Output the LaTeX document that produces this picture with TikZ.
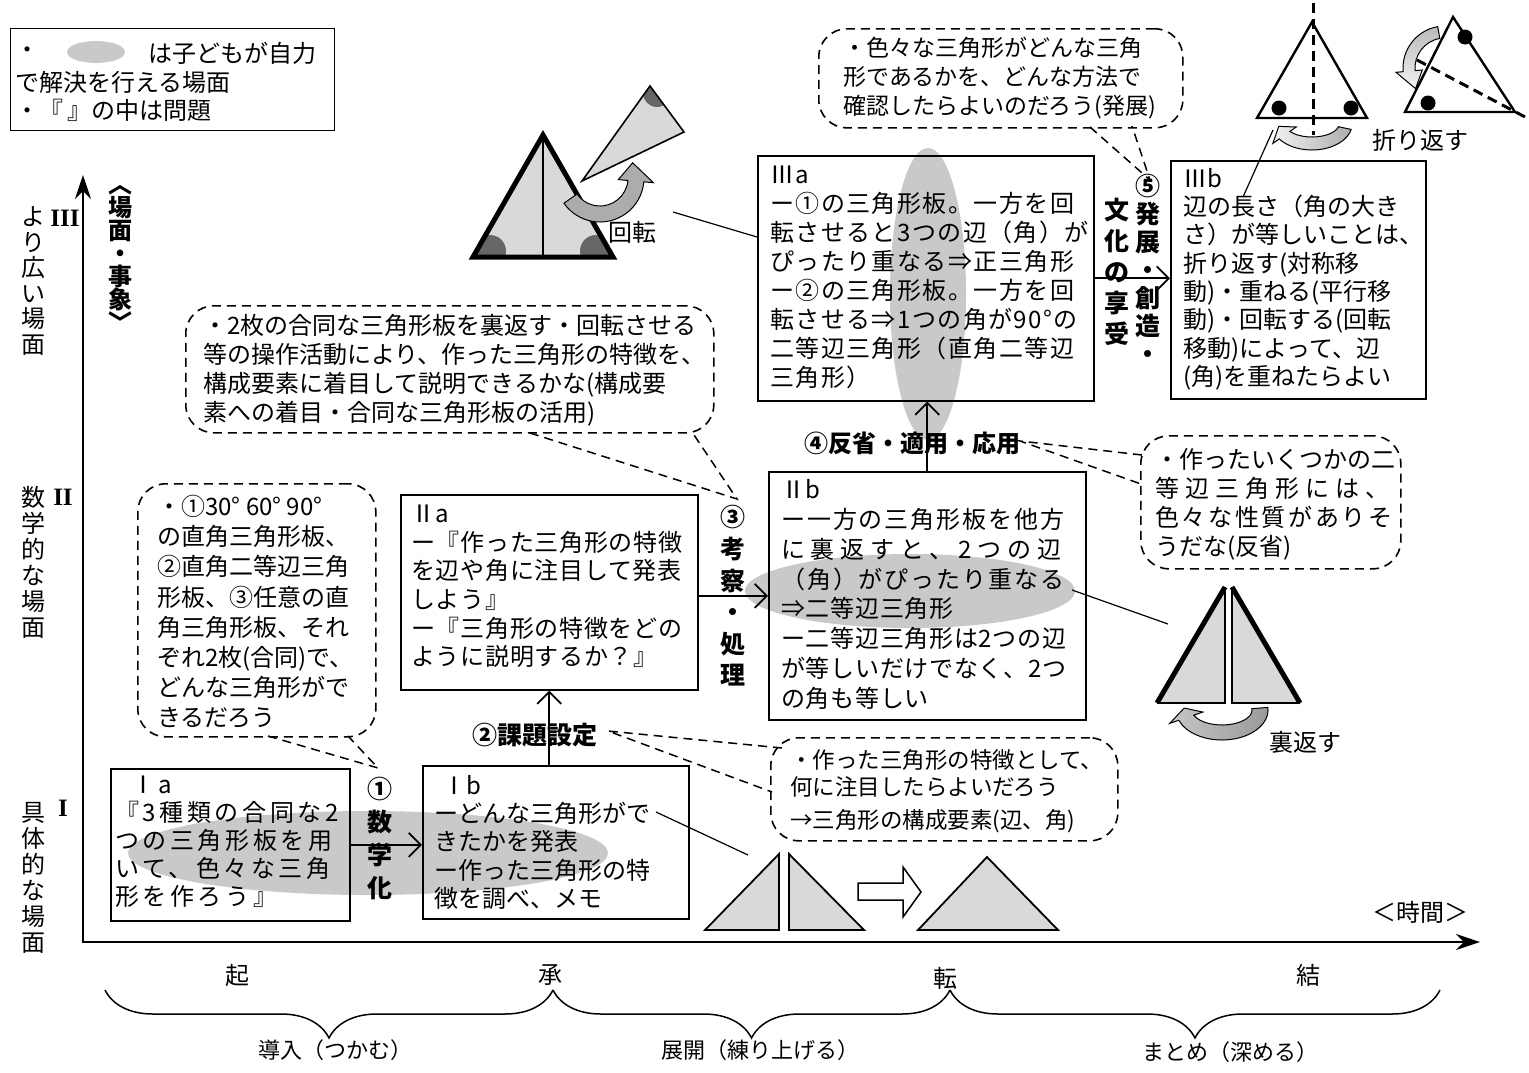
\documentclass[tikz,border=0pt]{standalone}
\usepackage{fontspec}
\setmainfont{Noto Sans CJK JP}
\newfontfamily\romfont{Liberation Serif}
\usepackage{graphicx}
\usetikzlibrary{arrows.meta,calc,decorations.pathreplacing}

% curved broad arrow along an elliptical band:
% #1 centre, #2 start angle, #3 end angle, #4/#5 outer radii, #6/#7 inner radii, #8 tip offset angle, #9 style
\newcommand{\bandarrow}[9]{%
  \pgfmathsetmacro{\bOx}{#4+0.6*(#4-#6)}%
  \pgfmathsetmacro{\bOy}{#5+0.6*(#5-#7)}%
  \pgfmathsetmacro{\bIx}{#6-0.6*(#4-#6)}%
  \pgfmathsetmacro{\bIy}{#7-0.6*(#5-#7)}%
  \pgfmathsetmacro{\bMx}{0.5*(#4+#6)}%
  \pgfmathsetmacro{\bMy}{0.5*(#5+#7)}%
  \pgfmathsetmacro{\bTip}{#3+#8}%
  \path[#9] ($(#1)+(#2:#4 and #5)$) arc[start angle=#2, end angle=#3, x radius=#4, y radius=#5]
    -- ($(#1)+(#3:\bOx\space and \bOy)$) -- ($(#1)+(\bTip:\bMx\space and \bMy)$)
    -- ($(#1)+(#3:\bIx\space and \bIy)$) -- ($(#1)+(#3:#6 and #7)$)
    arc[start angle=#3, end angle=#2, x radius=#6, y radius=#7] -- cycle;
}

\begin{document}
\begin{tikzpicture}[x=1pt, y=-1pt,
  box/.style={draw, line width=1.6pt, inner sep=0pt, anchor=north west},
  bubble/.style={draw, line width=1.6pt, dash pattern=on 9pt off 6pt, rounded corners=28pt, inner sep=0pt, anchor=north west},
  txt/.style={font=\fontsize{24}{28.5}\selectfont, align=left, inner sep=0pt, anchor=north west},
  lab/.style={font=\fontsize{25}{31}\selectfont\bfseries, align=center, inner sep=0pt},
  vtxt/.style={font=\fontsize{24}{25.5}\selectfont, align=center, inner sep=0pt},
  plain/.style={font=\fontsize{24}{26}\selectfont, inner sep=0pt},
  roman/.style={inner sep=0pt, font=\romfont\bfseries\fontsize{25}{26}\selectfont},
  tail/.style={line width=1.5pt, dash pattern=on 9pt off 6pt},
  flow/.style={line width=1.8pt, -{Straight Barb[length=12pt,width=24pt,line width=1.8pt]}},
  axis/.style={line width=2.4pt},
  pointer/.style={line width=1.2pt},
  blob/.style={fill=gray!42},
  plate/.style={fill=gray!30, draw, line width=1.8pt, line join=miter},
  dot/.style={fill=black},
  broad/.style={draw=black, line width=1pt},
]
\useasboundingbox (0,0) rectangle (1529,1072);

% ---- stippled zones (under boxes and text)
\fill[blob] (368,853) ellipse [x radius=240, y radius=42];
\fill[blob] (910,591) ellipse [x radius=165, y radius=37];
\fill[blob] (928,294) ellipse [x radius=38, y radius=146];

% ---- legend
\node[box, line width=1.2pt, minimum width=324pt, minimum height=102pt] (leg) at (10,28) {};
\fill[blob] (96,52) ellipse [x radius=29, y radius=11];
\node[plain, anchor=west] (leg1) at (15,53) {・};
\node[plain, anchor=west] (leg2) at (148,53) {は子どもが自力};
\node[plain, anchor=west] (leg3) at (15,82) {で解決を行える場面};
\node[plain, anchor=west] (leg4) at (15,110) {・『\hspace{4pt}』の中は問題};

% ---- axes
\coordinate (O) at (83,942);
\coordinate (ytop) at (83,175);
\coordinate (xend) at (1480,942);
\draw[axis, {Stealth[length=24pt,width=16pt]}-{Stealth[length=24pt,width=16pt]}] (ytop) -- (O) -- (xend);

\node[vtxt, font=\fontsize{24}{23}\selectfont\bfseries] (scene) at (120,258) {︿\\場\\面\\・\\事\\象\\﹀};
\node[vtxt] (lv3) at (33,281) {よ\\り\\広\\い\\場\\面};
\node[vtxt, font=\fontsize{24}{26}\selectfont] (lv2) at (33,562) {数\\学\\的\\な\\場\\面};
\node[vtxt, font=\fontsize{24}{26}\selectfont] (lv1) at (33,878) {具\\体\\的\\な\\場\\面};
\node[roman] (r3) at (65,218) {III};
\node[roman] (r2) at (63,497) {II};
\node[roman] (r1) at (63,808) {I};
\node[plain] (time) at (1420,912) {＜時間＞};

% ---- stage boxes
\node[box, minimum width=239pt, minimum height=152pt] (Ia) at (110,768) {};
\node[box, minimum width=266pt, minimum height=153pt] (Ib) at (422,765) {};
\node[box, minimum width=297pt, minimum height=195pt] (IIa) at (400,494) {};
\node[box, minimum width=317pt, minimum height=248pt] (IIb) at (768,471) {};
\node[box, minimum width=336pt, minimum height=245pt] (IIIa) at (757,155) {};
\node[box, minimum width=255pt, minimum height=238pt] (IIIb) at (1170,160) {};

\node[txt, font={\fontsize{24}{28}\selectfont\addfontfeature{LetterSpace=15}}] (Iat) at (115,776)
  {\hspace{16pt}Ⅰa\\『3種類の合同な2\\つの三角形板を用\\いて、色々な三角\\形を作ろう』};
\node[txt, font={\fontsize{24}{28.3}\selectfont}] (Ibt) at (434,775)
  {\hspace{8pt}Ⅰb\\ーどんな三角形がで\\きたかを発表\\ー作った三角形の特\\徴を調べ、メモ};
\node[txt, font={\fontsize{24}{28.6}\selectfont\addfontfeature{LetterSpace=3}}] (IIat) at (411,505)
  {Ⅱa\\ー『作った三角形の特徴\\を辺や角に注目して発表\\しよう』\\ー『三角形の特徴をどの\\ように説明するか？』};
\node[txt, font={\fontsize{24}{29.9}\selectfont\addfontfeature{LetterSpace=3}}] (IIbt) at (781,479)
  {Ⅱb\\{\addfontfeature{LetterSpace=8}ー一方の三角形板を他方}\\{\addfontfeature{LetterSpace=24}に裏返すと、2つの辺}\\{\addfontfeature{LetterSpace=8}（角）がぴったり重なる}\\⇒二等辺三角形\\ー二等辺三角形は2つの辺\\が等しいだけでなく、2つ\\の角も等しい};
\node[txt, font={\fontsize{24}{29}\selectfont\addfontfeature{LetterSpace=6}}] (IIIat) at (770,166)
  {Ⅲa\\ー①の三角形板。一方を回\\転させると3つの辺（角）が\\ぴったり重なる⇒正三角形\\ー②の三角形板。一方を回\\転させる⇒1つの角が90°の\\二等辺三角形（直角二等辺\\三角形）};
\node[txt, font={\fontsize{24}{28.3}\selectfont}] (IIIbt) at (1183,168)
  {Ⅲb\\辺の長さ（角の大き\\さ）が等しいことは、\\折り返す(対称移\\動)・重ねる(平行移\\動)・回転する(回転\\移動)によって、辺\\(角)を重ねたらよい};

% ---- transitions
\draw[flow] (Ia.east) -- (Ia.east -| Ib.west);
\draw[flow] (IIa.south |- Ib.north) -- (IIa.south);
\draw[flow] (IIa.east |- IIb.west) -- (IIb.west);
\draw[flow] (IIb.north) -- (IIb.north |- IIIa.south);
\draw[flow] (IIIa.east) -- (IIIa.east -| IIIb.west);

\node[lab, font=\fontsize{25}{33}\selectfont\bfseries] (s1) at (380,838) {①\\数\\学\\化};
\node[lab] (s2) at (535,735) {②課題設定};
\node[lab, font=\fontsize{25}{31.6}\selectfont\bfseries] (s3) at (733,596) {③\\考\\察\\・\\処\\理};
\node[lab, font=\fontsize{24}{26}\selectfont\bfseries] (s4) at (912,443) {④反省・適用・応用};
\node[lab, font=\fontsize{25}{31}\selectfont\bfseries] (s5a) at (1117,272) {文\\化\\の\\享\\受};
\node[lab, font=\fontsize{25}{28}\selectfont\bfseries] (s5b) at (1148,269) {⑤\\発\\展\\・\\創\\造\\・};

% ---- dashed speech bubbles
\node[bubble, minimum width=238pt, minimum height=253pt] (C1) at (137,483) {};
\node[txt, font={\fontsize{24}{30.2}\selectfont}] (C1t) at (157,495)
  {・①30°\ 60°\ 90°\\の直角三角形板、\\②直角二等辺三角\\形板、③任意の直\\角三角形板、それ\\ぞれ2枚(合同)で、\\どんな三角形がで\\きるだろう};
\coordinate (t1) at (378,768);
\draw[tail] (268,736) -- (t1) -- (348,736);

\node[bubble, minimum width=528pt, minimum height=127pt] (C2) at (185,305) {};
\node[txt, font={\fontsize{24}{29}\selectfont}] (C2t) at (203,314)
  {・2枚の合同な三角形板を裏返す・回転させる\\等の操作活動により、作った三角形の特徴を、\\構成要素に着目して説明できるかな(構成要\\素への着目・合同な三角形板の活用)};
\coordinate (t2) at (737,499);
\draw[tail] (530,433) -- (t2) -- (692,432);

\node[bubble, minimum width=364pt, minimum height=99pt] (C3) at (818,28) {};
\node[txt, font={\fontsize{23}{29}\selectfont}] (C3t) at (843,37)
  {・色々な三角形がどんな三角\\形であるかを、どんな方法で\\確認したらよいのだろう(発展)};
\coordinate (t3) at (1150,180);
\draw[tail] (1090,127) -- (t3) -- (1132,126);

\node[bubble, minimum width=260pt, minimum height=133pt] (C4) at (1140,435) {};
\node[txt, font={\fontsize{24}{29}\selectfont}] (C4t) at (1155,448)
  {・作ったいくつかの二\\{\addfontfeature{LetterSpace=25}等辺三角形には、}\\{\addfontfeature{LetterSpace=11}色々な性質がありそ}\\うだな(反省)};
\coordinate (t4) at (1020,441);
\draw[tail] (1142,455) -- (t4) -- (1141,484);

\node[bubble, minimum width=347pt, minimum height=103pt] (C5) at (770,737) {};
\node[txt, font={\fontsize{22.5}{27.5}\selectfont}] (C5t) at (790,749)
  {・作った三角形の特徴として、\\何に注目したらよいだろう\\[5pt]→三角形の構成要素(辺、角)};
\coordinate (t5) at (608,731);
\draw[tail] (782,748) -- (t5) -- (772,792);

% ---- figure: rotating the 30-60-90 plate
\begin{scope}
  \clip (543,135) -- (473,257) -- (613,257) -- cycle;
  \fill[gray!30] (470,130) rectangle (616,260);
  \fill[black!60] (490,251) circle [radius=16];
  \fill[black!60] (596,251) circle [radius=16];
\end{scope}
\draw[line width=5pt, line join=miter] (543,135) -- (473,257) -- (613,257) -- cycle;
\draw[line width=1.5pt] (543,135) -- (543,257);
\begin{scope}
  \clip (582,181) -- (650,86) -- (684,132) -- cycle;
  \fill[gray!30] (580,80) rectangle (690,185);
  \fill[black!60] (657,93) circle [radius=14];
\end{scope}
\draw[line width=1.6pt, line join=miter] (582,181) -- (650,86) -- (684,132) -- cycle;
\bandarrow{600,178}{145}{5}{44}{44}{28}{28}{-30}{broad, fill=gray!65}
\node[plain] (rot) at (632,232) {回転};
\coordinate (p1a) at (757,237);
\coordinate (p1b) at (673,212);
\draw[pointer] (p1a) -- (p1b);

% ---- figure: folding the triangle
\draw[line width=2.4pt, line join=miter] (1312,22) -- (1257,118) -- (1367,118) -- cycle;
\draw[line width=3pt, dash pattern=on 10pt off 6pt] (1313,3) -- (1313,135);
\fill[dot] (1279,108) circle [radius=7.5];
\fill[dot] (1351,108) circle [radius=7.5];
\draw[line width=2.4pt, line join=miter] (1453,17) -- (1405,112) -- (1515,112) -- cycle;
\draw[line width=3pt, dash pattern=on 10pt off 6pt] (1417,60) -- (1527,118);
\fill[dot] (1465,37) circle [radius=7.5];
\fill[dot] (1428,103) circle [radius=7.5];
\bandarrow{1312,124}{12}{145}{40}{26}{27}{13}{28}{broad, left color=gray!10, right color=gray!65}
\bandarrow{1445,68}{-100}{-185}{42}{42}{30}{30}{-30}{broad, top color=gray!55, bottom color=gray!10}
\node[plain] (fold) at (1420,140) {折り返す};
\coordinate (p3a) at (1243,197);
\coordinate (p3b) at (1273,130);
\draw[pointer] (p3a) -- (p3b);

% ---- figure: turning one plate over
\fill[gray!30] (1225,587) -- (1157,703) -- (1225,703) -- cycle;
\fill[gray!30] (1232,587) -- (1232,703) -- (1300,703) -- cycle;
\draw[line width=1.5pt] (1225,587) -- (1225,703) -- (1157,703);
\draw[line width=1.5pt] (1232,587) -- (1232,703) -- (1300,703);
\draw[line width=5pt] (1157,703) -- (1225,587);
\draw[line width=5pt] (1232,587) -- (1300,703);
\bandarrow{1222,710}{-5}{160}{46}{30}{30}{15}{25}{broad, left color=gray!45, right color=gray!80}
\node[plain] (flip) at (1305,742) {裏返す};
\coordinate (p2a) at (1072,590);
\coordinate (p2b) at (1168,624);
\draw[pointer] (p2a) -- (p2b);

% ---- figure: two plates joined into one triangle
\draw[plate] (705,930) -- (779,854) -- (779,930) -- cycle;
\draw[plate] (789,854) -- (789,930) -- (864,930) -- cycle;
\draw[fill=white, line width=1.5pt] (858,883) -- (903,883) -- (903,867) -- (921,892) -- (903,917) -- (903,900) -- (858,900) -- cycle;
\draw[plate] (918,930) -- (987,857) -- (1058,930) -- cycle;
\coordinate (p0a) at (656,812);
\coordinate (p0b) at (748,855);
\draw[pointer] (p0a) -- (p0b);

% ---- phases along the time axis
\node[plain] (k1) at (237,975) {起};
\node[plain] (k2) at (550,975) {承};
\node[plain] (k3) at (945,978) {転};
\node[plain] (k4) at (1308,975) {結};
\coordinate (b0) at (105,990);
\coordinate (b1) at (553,990);
\coordinate (b2) at (950,990);
\coordinate (b3) at (1440,990);
\draw[line width=1.5pt, decorate, decoration={brace, mirror, amplitude=48pt, aspect=0.5}] (b0) -- (b1);
\draw[line width=1.5pt, decorate, decoration={brace, mirror, amplitude=48pt, aspect=0.5}] (b1) -- (b2);
\draw[line width=1.5pt, decorate, decoration={brace, mirror, amplitude=48pt, aspect=0.5}] (b2) -- (b3);
\node[plain, font=\fontsize{22}{24}\selectfont] (ph1) at (335,1050) {導入（つかむ）};
\node[plain, font=\fontsize{22}{24}\selectfont] (ph2) at (760,1050) {展開（練り上げる）};
\node[plain, font=\fontsize{22}{24}\selectfont] (ph3) at (1230,1052) {まとめ（深める）};
\end{tikzpicture}
\end{document}
